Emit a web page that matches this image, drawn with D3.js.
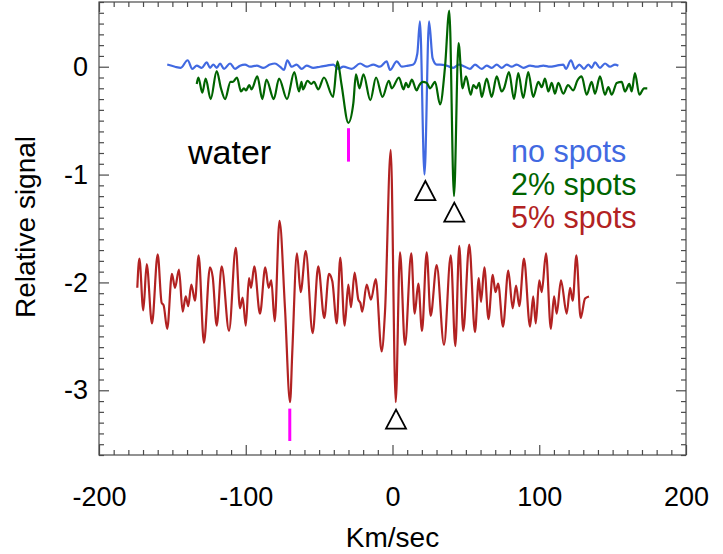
<!DOCTYPE html>
<html>
<head>
<meta charset="utf-8">
<script src="https://cdn.jsdelivr.net/npm/d3@7"></script>
<style>
  body { margin: 0; background: #fff; }
  svg { display: block; font-family: "Liberation Sans", Arial, sans-serif; }
</style>
</head>
<body>
<svg id="chart" width="723" height="554"></svg>
<script>
// Cross-correlation signal vs. velocity for three spot fractions
const noSpotsVel = [-153.5,-148.2,-144.3,-139.6,-136.4,-133.4,-130.0,-126.6,-124.3,-122.1,
  -119.8,-117.5,-114.8,-110.7,-107.3,-103.9,-100.5,-97.1,-92.5,-88.0,
  -83.5,-80.1,-76.7,-73.9,-71.7,-68.7,-65.3,-61.9,-58.5,-54.0,
  -49.4,-44.8,-40.3,-36.9,-33.5,-27.8,-22.1,-17.6,-13.1,-8.5,
  -4.0,-1.7,2.9,6.3,10.6,14.2,16.9,18.7,21.8,24.9,
  27.3,30.1,32.4,36.9,41.4,45.3,49.4,52.8,56.2,60.8,
  64.2,67.6,71.0,74.4,77.8,81.2,84.6,89.1,93.7,98.3,
  102.8,107.3,111.9,116.4,118.2,121.6,124.4,127.3,130.5,133.4,
  135.7,138.0,141.4,144.8,148.2,151.6,153.9];
const noSpotsSig = [0.02,0.0,-0.01,0.06,-0.02,0.01,-0.01,0.04,-0.01,0.02,
  -0.01,0.03,-0.02,0.03,-0.02,0.01,0.02,0.0,0.01,-0.01,
  0.02,0.03,0.0,-0.03,0.06,0.0,0.02,-0.02,0.01,-0.01,
  0.0,0.01,0.02,-0.02,0.0,-0.02,0.03,0.0,0.02,0.0,
  0.05,-0.03,0.05,0.0,0.01,0.02,0.12,0.42,-1.0,0.42,
  0.08,0.02,0.02,0.01,-0.01,0.02,0.0,-0.02,0.02,-0.02,
  0.01,-0.01,0.02,-0.01,0.02,0.0,0.02,-0.01,0.01,0.0,
  0.01,0.0,0.01,0.02,-0.02,0.06,-0.02,0.02,-0.02,0.02,
  -0.01,0.04,-0.01,0.03,0.0,0.02,0.01];

const spots2Vel = [-133.4,-132.3,-129.6,-127.3,-123.9,-119.8,-116.9,-114.1,-110.4,-108.7,
  -106.0,-103.2,-101.2,-99.8,-97.6,-96.1,-92.1,-88.7,-85.9,-80.9,
  -77.3,-71.9,-66.9,-63.7,-62.0,-61.0,-57.9,-55.3,-53.5,-50.6,
  -46.7,-40.5,-37.5,-34.8,-30.1,-26.7,-24.9,-22.5,-19.8,-15.1,
  -11.2,-6.8,-2.5,-0.5,4.4,7.5,9.2,10.8,13.2,16.4,
  18.3,20.6,23.3,25.6,29.0,32.4,35.8,38.7,41.9,45.0,
  47.7,50.1,53.3,55.1,57.2,59.1,60.8,64.2,67.6,71.0,
  74.4,76.0,79.4,82.8,85.7,89.1,92.5,95.9,99.4,101.7,
  103.9,106.2,108.5,110.7,113.0,116.4,119.6,123.2,125.9,128.9,
  132.3,135.7,138.0,141.4,144.8,147.1,149.4,152.8,156.2,158.4,
  161.4,163.0,165.2,168.2,171.4,173.6];
const spots2Sig = [-0.16,-0.10,-0.24,-0.11,-0.30,-0.04,-0.20,-0.30,-0.14,-0.14,
  -0.10,-0.23,-0.20,-0.22,-0.17,-0.21,-0.09,-0.30,-0.12,-0.30,
  -0.11,-0.30,-0.05,-0.23,-0.14,-0.21,-0.13,-0.16,-0.14,-0.21,
  -0.10,-0.28,0.05,-0.16,-0.52,-0.34,-0.07,-0.20,-0.07,-0.31,
  -0.10,-0.28,-0.13,-0.20,-0.10,-0.21,-0.15,-0.19,-0.12,-0.22,
  -0.17,-0.14,-0.15,-0.20,-0.14,-0.35,0.0,0.52,-1.20,0.22,
  -0.20,-0.09,-0.26,-0.17,-0.20,-0.15,-0.28,-0.11,-0.28,-0.09,
  -0.23,-0.20,-0.05,-0.30,-0.06,-0.29,-0.05,-0.28,-0.14,-0.19,
  -0.11,-0.23,-0.15,-0.25,-0.15,-0.25,-0.17,-0.22,-0.13,-0.09,
  -0.26,-0.14,-0.25,-0.09,-0.26,-0.19,-0.26,-0.15,-0.14,-0.23,
  -0.16,-0.23,-0.06,-0.26,-0.20,-0.20];

const spots5Vel = [-173.9,-172.5,-169.8,-167.5,-163.9,-160.0,-157.3,-156.0,-153.5,-150.3,
  -148.2,-145.5,-143.0,-140.9,-139.2,-137.1,-134.6,-132.1,-128.5,-124.4,
  -122.5,-119.8,-116.4,-111.4,-106.8,-103.9,-102.1,-100.0,-97.8,-96.4,
  -94.2,-90.3,-86.7,-84.4,-82.6,-80.3,-77.0,-73.3,-69.8,-68.3,
  -65.1,-62.6,-59.1,-54.4,-50.6,-46.5,-43.3,-41.0,-38.0,-35.6,
  -32.6,-30.1,-28.3,-25.8,-23.3,-21.9,-20.6,-17.6,-14.7,-11.4,
  -7.4,-5.1,-1.2,2.2,5.1,8.5,12.8,15.1,17.6,20.1,
  23.3,26.0,30.1,35.1,39.7,42.8,45.5,48.2,52.3,56.2,
  58.8,60.3,62.6,65.4,68.3,70.2,72.0,75.3,78.9,81.9,
  84.2,86.4,89.6,93.7,95.9,97.6,100.0,101.7,104.6,107.9,
  110.1,111.9,114.8,118.7,121.0,122.8,125.3,128.2,131.2,133.9];
const spots5Sig = [-2.05,-1.78,-2.26,-1.83,-2.38,-1.74,-2.19,-2.21,-2.43,-1.92,
  -2.05,-1.88,-2.27,-2.13,-2.22,-2.02,-2.17,-1.75,-2.56,-1.86,
  -1.95,-2.40,-1.85,-2.45,-1.68,-2.24,-2.14,-2.40,-1.96,-2.05,
  -1.85,-2.29,-1.86,-2.05,-1.98,-2.36,-1.43,-2.23,-3.11,-2.65,
  -1.73,-2.09,-1.71,-2.47,-1.85,-2.33,-1.92,-1.99,-2.38,-1.77,
  -2.40,-2.02,-2.23,-1.91,-2.16,-2.19,-2.27,-2.02,-2.16,-1.97,
  -2.64,-2.27,-0.77,-3.11,-1.72,-2.58,-1.73,-2.29,-2.01,-2.45,
  -1.72,-2.31,-1.84,-2.58,-1.75,-2.59,-1.66,-2.45,-1.65,-2.46,
  -1.96,-2.18,-1.86,-2.34,-1.93,-2.09,-2.01,-2.41,-1.89,-2.24,
  -2.03,-2.22,-1.78,-2.41,-2.13,-2.38,-1.98,-2.09,-1.73,-2.43,
  -2.13,-2.29,-1.98,-2.29,-2.05,-2.17,-1.75,-2.33,-2.15,-2.13];

// Feature markers: magenta bars and open triangles (apex position)
const barVel = [-30, -70];
const barTop = [-0.57, -3.17];
const barBottom = [-0.88, -3.47];
const triVel = [22.4, 42.1, 2.4];
const triSig = [-1.06, -1.26, -3.18];

const seriesNames = ["no spots", "2% spots", "5% spots"];
const seriesColors = ["#4169e1", "#006400", "#b22222"];

const xMajor = [-200, -100, 0, 100, 200];
const yMajor = [0, -1, -2, -3];
const xDomain = [-200, 200];
const yDomain = [-3.6, 0.6];

const margin = { left: 99, top: 2, right: 37, bottom: 99 };
const W = 723, H = 554;
const iw = W - margin.left - margin.right;
const ih = H - margin.top - margin.bottom;

const svg = d3.select("#chart");
const g = svg.append("g").attr("transform", `translate(${margin.left},${margin.top})`);

const x = d3.scaleLinear().domain(xDomain).range([0, iw]);
const y = d3.scaleLinear().domain(yDomain).range([ih, 0]);

const frameColor = "#4a4a4a";
const tickFont = 27;
const titleFont = 28;

const xMinor = d3.range(-200, 201, 10).filter(v => !xMajor.includes(v));
const yMinor = d3.range(-36, 7).map(v => v / 10).filter(v => !yMajor.includes(v));

function styleAxis(sel) {
  sel.select(".domain").remove();
  sel.selectAll(".tick line").attr("stroke", frameColor).attr("stroke-width", 1.2);
  sel.selectAll(".tick text").attr("font-size", tickFont)
    .attr("font-family", "'Liberation Sans', Arial, sans-serif").attr("fill", "#000");
}

// bottom
g.append("g").attr("transform", `translate(0,${ih})`)
  .call(d3.axisBottom(x).tickValues(xMinor).tickSize(-5).tickFormat("")).call(styleAxis);
g.append("g").attr("transform", `translate(0,${ih})`)
  .call(d3.axisBottom(x).tickValues(xMajor).tickSize(-10).tickPadding(32).tickFormat(d3.format("d")))
  .call(styleAxis);
// top
g.append("g")
  .call(d3.axisTop(x).tickValues(xMinor).tickSize(-5).tickFormat("")).call(styleAxis);
g.append("g")
  .call(d3.axisTop(x).tickValues(xMajor).tickSize(-10).tickFormat("")).call(styleAxis);
// left
g.append("g")
  .call(d3.axisLeft(y).tickValues(yMinor).tickSize(-5).tickFormat("")).call(styleAxis);
g.append("g")
  .call(d3.axisLeft(y).tickValues(yMajor).tickSize(-10).tickPadding(11).tickFormat(d3.format("d")))
  .call(styleAxis);
// right
g.append("g").attr("transform", `translate(${iw},0)`)
  .call(d3.axisRight(y).tickValues(yMinor).tickSize(-5).tickFormat("")).call(styleAxis);
g.append("g").attr("transform", `translate(${iw},0)`)
  .call(d3.axisRight(y).tickValues(yMajor).tickSize(-10).tickFormat("")).call(styleAxis);

// plain hyphen for negative labels
g.selectAll(".tick text").text(function () { return this.textContent.replace("\u2212", "-"); });

g.append("rect").attr("x", 0).attr("y", 0).attr("width", iw).attr("height", ih)
  .attr("fill", "none").attr("stroke", frameColor).attr("stroke-width", 1.2);

// curves
const line = d3.line().x(d => x(d[0])).y(d => y(d[1])).curve(d3.curveMonotoneX);
const series = [
  d3.zip(noSpotsVel, noSpotsSig),
  d3.zip(spots2Vel, spots2Sig),
  d3.zip(spots5Vel, spots5Sig)
];
series.forEach((pts, i) => {
  g.append("path").datum(pts).attr("d", line)
    .attr("fill", "none").attr("stroke", seriesColors[i])
    .attr("stroke-width", 2.2).attr("stroke-linejoin", "round");
});

// magenta bars
barVel.forEach((v, i) => {
  g.append("line").attr("x1", x(v)).attr("x2", x(v))
    .attr("y1", y(barTop[i])).attr("y2", y(barBottom[i]))
    .attr("stroke", "#ff00ff").attr("stroke-width", 3);
});

// open triangles
triVel.forEach((v, i) => {
  const cx = x(v), ty = y(triSig[i]);
  const p = d3.path();
  p.moveTo(cx, ty);
  p.lineTo(cx + 10, ty + 19);
  p.lineTo(cx - 10, ty + 19);
  p.closePath();
  g.append("path").attr("d", p.toString()).attr("fill", "none")
    .attr("stroke", "#000").attr("stroke-width", 1.8).attr("stroke-linejoin", "miter");
});

// labels
svg.append("text").attr("x", margin.left + iw / 2).attr("y", 547)
  .attr("text-anchor", "middle").attr("font-size", titleFont).text("Km/sec");
svg.append("text").attr("transform", "translate(35,227) rotate(-90)")
  .attr("text-anchor", "middle").attr("font-size", titleFont).text("Relative signal");
svg.append("text").attr("x", 188).attr("y", 164).attr("font-size", 34).text("water");

const legendBase = [162, 195, 228];
seriesNames.forEach((name, i) => {
  svg.append("text").attr("x", 511).attr("y", legendBase[i])
    .attr("font-size", 30.5).attr("fill", seriesColors[i]).text(name);
});
</script>
</body>
</html>
